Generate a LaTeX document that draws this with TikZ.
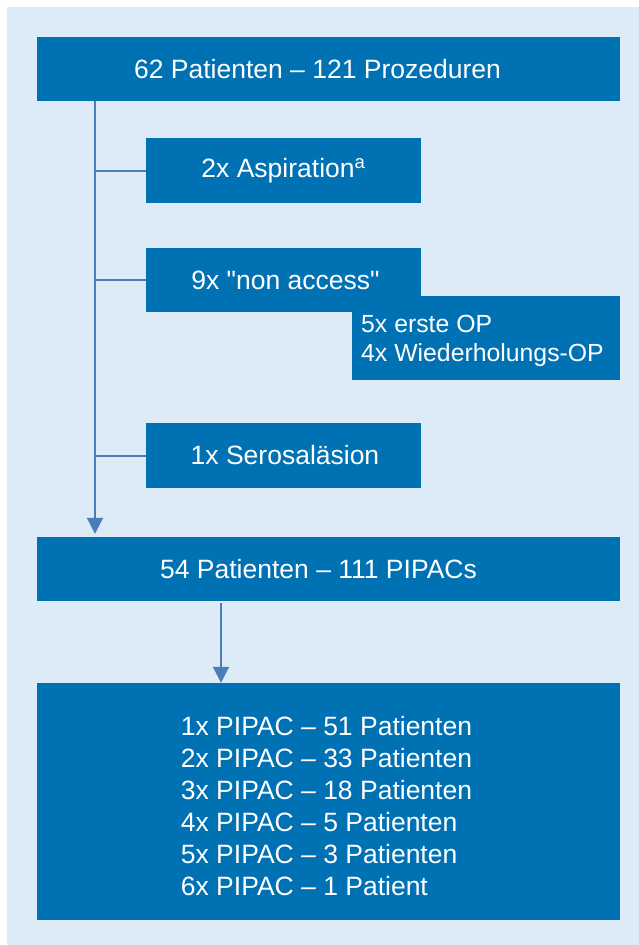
\documentclass[tikz,border=0pt]{standalone}
\usepackage{fontspec}
\setmainfont{Liberation Sans}
\newfontfamily\rawfont{Liberation Sans}
\newcommand{\straightq}{{\rawfont\symbol{34}}}
\usetikzlibrary{arrows.meta}
\definecolor{panelbg}{RGB}{221,235,247}
\definecolor{boxblue}{RGB}{0,114,180}
\definecolor{linkblue}{RGB}{74,126,187}
\tikzset{
  box/.style={fill=boxblue, text=white, inner sep=0pt, anchor=center,
    font=\fontsize{26.5}{32}\selectfont},
  plain/.style={text=white, inner sep=0pt},
  conn/.style={draw=linkblue, line width=2pt},
  arr/.style={conn, -{Triangle[width=16pt,length=16pt]}}
}
\begin{document}
\begin{tikzpicture}[x=1pt,y=-1pt]
  \useasboundingbox (0,0) rectangle (639,945);
  \fill[panelbg] (7,7) rectangle (639,945);

  \node[box, minimum width=583pt, minimum height=64pt] (top) at (328.5,69)
    {62 Patienten -- 121 Prozeduren\hspace*{22pt}};
  \node[box, minimum width=275pt, minimum height=65pt] (asp) at (283.5,170.5)
    {2x Aspiration\textsuperscript{a}};
  \node[box, minimum width=275pt, minimum height=64pt] (na) at (283.5,280)
    {\hspace*{4pt}9x \straightq non access\straightq};
  \node[box, minimum width=268pt, minimum height=84pt] (sub) at (486,338) {};
  \node[plain, anchor=west, align=left, font=\fontsize{24.8}{29}\selectfont] (subtext) at (361,340.5)
    {5x erste OP\\4x Wiederholungs-OP};
  \node[box, minimum width=275pt, minimum height=65pt] (ser) at (283.5,455.5)
    {1x Serosaläsion\hspace*{-3pt}};
  \node[box, minimum width=583pt, minimum height=64pt] (p54) at (328.5,569)
    {54 Patienten -- 111 PIPACs\hspace*{20pt}};
  \node[box, minimum width=583pt, minimum height=237pt] (bot) at (328.5,801.5) {};
  \node[plain, align=left, font=\fontsize{26.5}{32}\selectfont] (bottext) at (326.5,806)
    {1x PIPAC -- 51 Patienten\\
     2x PIPAC -- 33 Patienten\\
     3x PIPAC -- 18 Patienten\\
     4x PIPAC -- 5 Patienten\\
     5x PIPAC -- 3 Patienten\\
     6x PIPAC -- 1 Patient};

  \coordinate (vx) at (95,0);
  \coordinate (ax) at (221,0);
  \draw[arr, shorten >=3pt] (top.south -| vx) -- (p54.north -| vx);
  \draw[conn] (vx |- asp.west) -- (asp.west);
  \draw[conn] (vx |- na.west) -- (na.west);
  \draw[conn] (vx |- ser.west) -- (ser.west);
  \draw[arr, shorten <=2pt] (p54.south -| ax) -- (bot.north -| ax);
\end{tikzpicture}
\end{document}
